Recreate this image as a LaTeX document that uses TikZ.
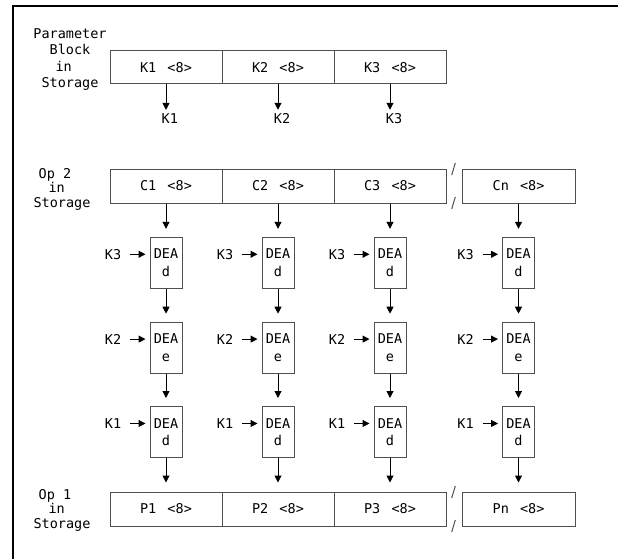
\documentclass[tikz,border=0pt]{standalone}
\usepackage{fontspec}
\setmainfont{DejaVu Sans Mono}
\usetikzlibrary{arrows.meta}
\definecolor{boxgray}{HTML}{505050}
\newcommand\cgap{\hspace{3pt}\ }
\begin{document}
\begin{tikzpicture}[x=1pt,y=-1pt,
  font=\fontsize{13.5}{15}\selectfont,
  cell/.style={draw=boxgray, line width=1pt, minimum width=112pt, minimum height=33pt, inner sep=0pt},
  dea/.style={draw=boxgray, line width=1pt, minimum width=32pt, minimum height=51pt, inner sep=0pt, align=center, font=\fontsize{13.5}{17.5}\selectfont},
  lab/.style={inner sep=0pt, anchor=base},
  arr/.style={-{Triangle[length=7pt,width=7pt]}, line width=1pt},
  brk/.style={draw=boxgray, line width=1pt}]
\useasboundingbox (0,0) rectangle (618,559);
% frame
\draw[line width=1.5pt] (13,559) -- (13,6) -- (618,6);
% parameter block
\node[lab] (pb1) at (70,38.5) {Parameter};
\node[lab] (pb2) at (70,55) {Block};
\node[lab] (pb3) at (63.7,71.5) {in};
\node[lab] (pb4) at (70,88) {Storage};
\node[cell] (kc1) at (166,67.5) {K1\cgap<8>};
\node[cell] (kc2) at (278,67.5) {K2\cgap<8>};
\node[cell] (kc3) at (390,67.5) {K3\cgap<8>};
\node[lab] (kl1) at (169.8,124) {K1};
\node[lab] (kl2) at (282,124) {K2};
\node[lab] (kl3) at (394,124) {K3};
\foreach \i in {1,2,3}{
  \draw[arr, shorten >=4pt] (kc\i.south) -- (kc\i.south |- kl\i.north);
}
% op 2
\node[lab] (o2a) at (55,178) {Op 2};
\node[lab] (o2b) at (56.7,192.5) {in};
\node[lab] (o2c) at (62,207) {Storage};
\node[cell, minimum height=34pt] (c1) at (166,186) {C1\cgap<8>};
\node[cell, minimum height=34pt] (c2) at (278,186) {C2\cgap<8>};
\node[cell, minimum height=34pt] (c3) at (390,186) {C3\cgap<8>};
\node[cell, minimum height=34pt, minimum width=113pt] (c4) at (518.5,186) {Cn\cgap<8>};
\draw[brk] (451.7,175) -- (455.3,163);
\draw[brk] (451.7,209) -- (455.3,197);
% op 1
\node[lab] (o1a) at (55,499) {Op 1};
\node[lab] (o1b) at (56.7,513.5) {in};
\node[lab] (o1c) at (62,528) {Storage};
\node[cell, minimum height=34pt] (p1) at (166,509) {P1\cgap<8>};
\node[cell, minimum height=34pt] (p2) at (278,509) {P2\cgap<8>};
\node[cell, minimum height=34pt] (p3) at (390,509) {P3\cgap<8>};
\node[cell, minimum height=34pt, minimum width=113pt] (p4) at (518.5,509) {Pn\cgap<8>};
\draw[brk] (451.7,498) -- (455.3,486);
\draw[brk] (451.7,532) -- (455.3,520);
% DEA columns
\foreach \i/\x in {1/166,2/278,3/390,4/518.5}{
  \node[dea] (da\i) at (\x,262.8) {DEA\\d};
  \node[dea] (db\i) at (\x,347.7) {DEA\\e};
  \node[dea] (dc\i) at (\x,432) {DEA\\d};
  \node[lab] (ka\i) at (\x-53,259.2) {K3};
  \node[lab] (kb\i) at (\x-53,344.1) {K2};
  \node[lab] (kc\i) at (\x-53,428.4) {K1};
  \draw[arr, shorten >=8pt] (c\i.south) -- (da\i.north);
  \draw[arr, shorten >=8pt] (da\i.south) -- (db\i.north);
  \draw[arr, shorten >=8pt] (db\i.south) -- (dc\i.north);
  \draw[arr, shorten >=9pt] (dc\i.south) -- (p\i.north);
  \draw[arr, shorten <=9pt, shorten >=4pt] (ka\i.east) -- (ka\i.east -| da\i.west);
  \draw[arr, shorten <=9pt, shorten >=4pt] (kb\i.east) -- (kb\i.east -| db\i.west);
  \draw[arr, shorten <=9pt, shorten >=4pt] (kc\i.east) -- (kc\i.east -| dc\i.west);
}
\end{tikzpicture}
\end{document}
